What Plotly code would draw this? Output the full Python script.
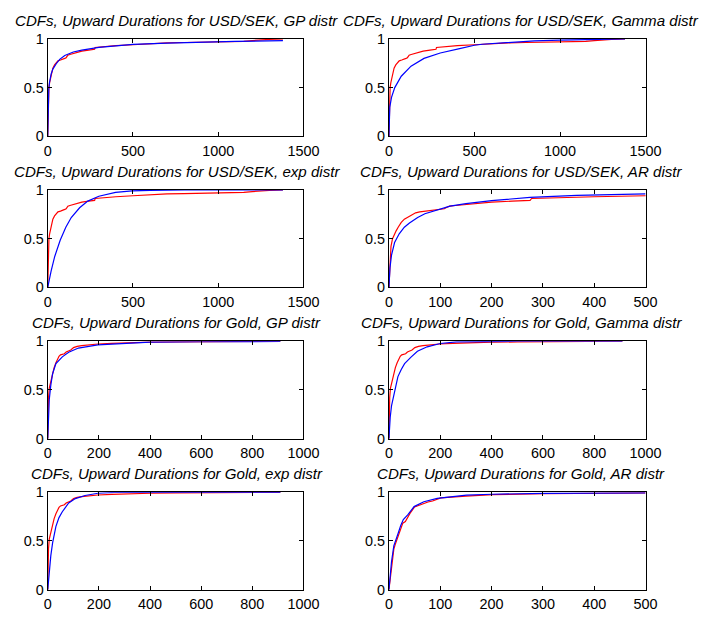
import plotly.graph_objects as go

# ---------------- data ----------------
# USD/SEK empirical CDF (red)
sek_emp_x = [0, 1, 2, 4, 7, 11, 14, 18, 24, 30, 40, 52, 60, 75, 90, 100, 108, 112, 118, 130,
             150, 170, 200, 240, 275, 278, 320, 400, 500, 560, 620, 700, 800, 900, 1000,
             1100, 1150, 1200, 1250, 1300, 1380]
sek_emp_y = [0, 0.15, 0.3, 0.42, 0.5, 0.55, 0.58, 0.617, 0.667, 0.70, 0.733, 0.765, 0.775, 0.783,
             0.79, 0.80, 0.807, 0.82, 0.833, 0.84, 0.85, 0.86, 0.875, 0.885, 0.893, 0.912, 0.92,
             0.93, 0.94, 0.948, 0.955, 0.96, 0.963, 0.965, 0.967, 0.97, 0.975, 0.983, 0.99,
             0.995, 1.0]

# USD/SEK fitted CDFs (blue)
sek_gp_x = [0, 1, 3, 6, 10, 15, 20, 30, 40, 50, 70, 100, 150, 200, 300, 400, 500, 700, 900, 1100, 1380]
sek_gp_y = [0, 0.2, 0.38, 0.48, 0.55, 0.6, 0.64, 0.69, 0.72, 0.745, 0.79, 0.83, 0.865, 0.885,
            0.912, 0.93, 0.943, 0.957, 0.967, 0.975, 0.982]

sek_gamma_x = [0, 2, 5, 15, 34, 72, 129, 205, 300, 413, 500, 545, 700, 850, 1000, 1200, 1380]
sek_gamma_y = [0, 0.2, 0.3, 0.4, 0.5, 0.617, 0.72, 0.8, 0.855, 0.9, 0.935, 0.945, 0.965, 0.98,
               0.988, 0.996, 1.0]

sek_exp_x = [0, 8, 20, 41, 73, 106, 138, 187, 235, 300, 398, 495, 600, 800, 1000, 1380]
sek_exp_y = [0, 0.07, 0.17, 0.317, 0.483, 0.617, 0.717, 0.817, 0.885, 0.935, 0.975, 0.99, 0.996,
             0.999, 1.0, 1.0]

sek_ar_x = [0, 2, 5, 11, 20, 30, 40, 56, 70, 87, 100, 119, 150, 200, 275, 366, 500]
sek_ar_y = [0, 0.2, 0.33, 0.46, 0.55, 0.617, 0.66, 0.717, 0.755, 0.783, 0.805, 0.833, 0.86,
            0.89, 0.923, 0.945, 0.96]

# Gold empirical CDF (red), as drawn in the GP / Gamma / exp panels
gold_emp_x = [0, 1, 3, 6, 10, 15, 19, 25, 32, 38, 44, 50, 57, 65, 72, 80, 90, 101, 115, 133,
              160, 196, 250, 300, 400, 500, 600, 700, 800, 910]
gold_emp_y = [0, 0.2, 0.42, 0.52, 0.57, 0.63, 0.68, 0.73, 0.78, 0.82, 0.845, 0.86, 0.865, 0.872,
              0.89, 0.9, 0.91, 0.935, 0.948, 0.955, 0.965, 0.972, 0.978, 0.983, 0.99, 0.993,
              0.996, 0.998, 0.999, 1.0]

# Gold empirical CDF (red), as drawn in the AR panel
gold_ar_emp_x = [0, 2, 5, 9.5, 12, 19, 27, 32, 37, 41, 50, 60, 76, 85, 101, 150, 202, 300, 400, 500]
gold_ar_emp_y = [0, 0.1, 0.25, 0.417, 0.46, 0.567, 0.683, 0.7, 0.75, 0.783, 0.85, 0.87, 0.9, 0.91,
                 0.943, 0.96, 0.975, 0.985, 0.99, 0.993]

# Gold fitted CDFs (blue)
gold_gp_x = [0, 2, 6, 12, 19, 32, 45, 57, 82, 120, 196, 300, 400, 600, 910]
gold_gp_y = [0, 0.2, 0.403, 0.55, 0.667, 0.77, 0.81, 0.84, 0.887, 0.93, 0.963, 0.98, 0.99, 0.995, 0.998]

gold_gamma_x = [0, 2, 5, 10, 23, 35, 48, 61, 86, 111, 149, 200, 263, 350, 500, 910]
gold_gamma_y = [0, 0.12, 0.22, 0.337, 0.5, 0.637, 0.71, 0.77, 0.837, 0.897, 0.943, 0.977, 0.993,
                0.998, 1.0, 1.0]

gold_exp_x = [0, 6, 12, 19, 32, 44, 57, 82, 108, 146, 196, 260, 400, 910]
gold_exp_y = [0, 0.2, 0.35, 0.48, 0.65, 0.74, 0.8, 0.89, 0.935, 0.967, 0.99, 0.998, 1.0, 1.0]

gold_ar_x = [0, 2, 5, 9.5, 14, 18, 23, 28, 37, 49, 68, 94, 151, 201, 300, 500]
gold_ar_y = [0, 0.15, 0.287, 0.45, 0.53, 0.58, 0.66, 0.72, 0.77, 0.853, 0.903, 0.937, 0.97,
             0.98, 0.988, 0.993]

titles = [
    "CDFs, Upward Durations for USD/SEK, GP distr",
    "CDFs, Upward Durations for USD/SEK, Gamma distr",
    "CDFs, Upward Durations for USD/SEK, exp distr",
    "CDFs, Upward Durations for USD/SEK, AR distr",
    "CDFs, Upward Durations for Gold, GP distr",
    "CDFs, Upward Durations for Gold, Gamma distr",
    "CDFs, Upward Durations for Gold, exp distr",
    "CDFs, Upward Durations for Gold, AR distr",
]
x_max = [1500, 1500, 1500, 500, 1000, 1000, 1000, 500]
x_step = [500, 500, 500, 100, 200, 200, 200, 100]
y_ticks = [0, 0.5, 1]
y_labels = ["0", "0.5", "1"]

emp = [(sek_emp_x, sek_emp_y)] * 4 + [(gold_emp_x, gold_emp_y)] * 3 + [(gold_ar_emp_x, gold_ar_emp_y)]
fit = [(sek_gp_x, sek_gp_y), (sek_gamma_x, sek_gamma_y), (sek_exp_x, sek_exp_y), (sek_ar_x, sek_ar_y),
       (gold_gp_x, gold_gp_y), (gold_gamma_x, gold_gamma_y), (gold_exp_x, gold_exp_y), (gold_ar_x, gold_ar_y)]

# ---------------- layout geometry (pixels) ----------------
W, H = 716, 625
col_x = [(45, 308), (396, 660)]
col_title_shift = [1, 4]
row_y = [(31.7, 131.7), (186.7, 286.7), (342, 442), (497, 597)]

FONT = "Liberation Sans, Arial, Helvetica, sans-serif"
fig = go.Figure()
annotations = []
layout = dict(
    width=W, height=H, margin=dict(l=0, r=0, t=0, b=0),
    paper_bgcolor="white", plot_bgcolor="white", showlegend=False,
    font=dict(family=FONT, size=14.4, color="black"),
)

for i in range(8):
    r, c = divmod(i, 2)
    n = i + 1
    xa = "xaxis" if n == 1 else f"xaxis{n}"
    ya = "yaxis" if n == 1 else f"yaxis{n}"
    xref = "x" if n == 1 else f"x{n}"
    yref = "y" if n == 1 else f"y{n}"
    x0, x1 = col_x[c]
    y0, y1 = row_y[r]
    common = dict(showgrid=False, zeroline=False, showline=True, linecolor="black", linewidth=1,
                  mirror="ticks", ticks="inside", ticklen=4, tickcolor="black", tickwidth=1,
                  tickfont=dict(family=FONT, size=14.4, color="black"))
    layout[xa] = dict(domain=[x0 / W, x1 / W], range=[0, x_max[i]], anchor=yref,
                      tickmode="linear", tick0=0, dtick=x_step[i], ticklabelstandoff=1, **common)
    layout[ya] = dict(domain=[1 - y1 / H, 1 - y0 / H], range=[0, 1], anchor=xref,
                      tickmode="array", tickvals=y_ticks, ticktext=y_labels, **common)
    ex, ey = emp[i]
    fx, fy = fit[i]
    fig.add_trace(go.Scatter(x=ex, y=ey, mode="lines", line=dict(color="#ff0000", width=1.2),
                             xaxis=xref, yaxis=yref))
    fig.add_trace(go.Scatter(x=fx, y=fy, mode="lines", line=dict(color="#0000ff", width=1.2),
                             xaxis=xref, yaxis=yref))
    annotations.append(dict(text=f"<i>{titles[i]}</i>", xref="paper", yref="paper",
                            x=(x0 + x1) / 2 / W, y=1 - y0 / H, xanchor="center", yanchor="bottom",
                            xshift=col_title_shift[c], yshift=8, showarrow=False,
                            font=dict(family=FONT, size=15.1, color="black")))

layout["annotations"] = annotations
fig.update_layout(**layout)
fig.write_html("out.html")
